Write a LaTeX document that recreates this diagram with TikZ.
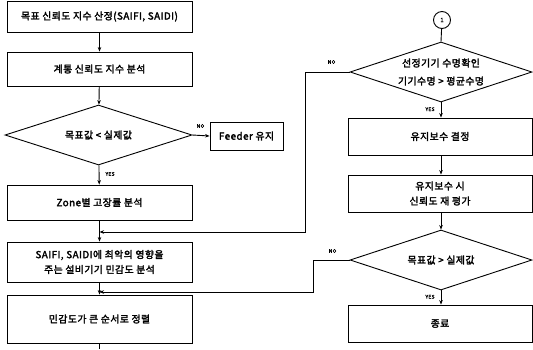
\documentclass[tikz,border=0pt]{standalone}
\usepackage{fontspec}
\setmainfont{Noto Sans CJK KR}[AutoFakeBold=2.5, LetterSpace=5]
\usetikzlibrary{shapes.geometric,arrows.meta,calc}
\tikzset{
  box/.style={draw, line width=0.9pt, minimum width=185, inner sep=1pt,
    font=\fontsize{9.8}{15}\selectfont\bfseries, align=center},
  rbox/.style={box, minimum width=184, minimum height=37},
  dec/.style={draw, diamond, aspect=3.05, line width=0.9pt, inner sep=0pt,
    minimum width=185, minimum height=60,
    font=\fontsize{9.8}{18}\selectfont\bfseries, align=center},
  conn/.style={line width=0.9pt, -{Stealth[length=4.5pt,width=3.5pt]}},
  plain/.style={line width=0.9pt},
  lab/.style={font=\fontsize{5}{6}\selectfont\bfseries, inner sep=0pt}
}
\begin{document}
\begin{tikzpicture}[x=1pt,y=-1pt]
\useasboundingbox (0,0) rectangle (533,349);
% left column
\node[box, minimum height=31] (b1) at (99.5,16.5) {목표 신뢰도 지수 산정(SAIFI, SAIDI)};
\node[box, minimum height=34] (b2) at (99.5,69) {계통 신뢰도 지수 분석};
\node[dec, minimum width=187] (d1) at (98.5,135) {목표값 < 실제값};
\node[box, minimum width=73, minimum height=28] (fd) at (246.5,136) {Feeder 유지};
\node[box, minimum height=35] (b3) at (99.5,202.5) {Zone별 고장률 분석};
\node[box, minimum height=40] (b4) at (99.5,262) {SAIFI, SAIDI에 최악의 영향을\\주는 설비기기 민감도 분석};
\node[box, minimum height=48] (b5) at (99.5,319) {민감도가 큰 순서로 정렬};
\coordinate (bend) at (99.5,349);
% right column
\node[draw, circle, line width=0.9pt, minimum size=17, inner sep=0pt,
  font=\fontsize{6}{6}\selectfont\bfseries] (c1) at (442,20) {1};
\node[dec, minimum width=182] (d2) at (441,72) {선정기기 수명확인\\기기수명 > 평균수명};
\node[rbox] (b6) at (440,136.5) {유지보수 결정};
\node[rbox] (b7) at (440,193.5) {유지보수 시\\신뢰도 재 평가};
\node[dec, minimum width=182] (d3) at (441,260) {목표값 > 실제값};
\node[rbox] (b8) at (440,323.5) {종료};
% connectors left
\draw[conn] (b1) -- (b2);
\draw[conn] (b2) -- (d1);
\draw[conn] (d1) -- node[lab, pos=0.45, right=6pt] {YES} (b3);
\draw[conn] (d1.east) -- (fd.west);
\node[lab] at ($(d1.east)+(8,-9)$) {NO};
\draw[conn] (b3) -- (b4);
\draw[conn] (b4) -- (b5);
\draw[plain] (b5) -- (bend);
% connectors right
\draw[plain] (c1) -- (d2.north);
\draw[conn] (d2.south) -- node[lab, pos=0.45, left=6pt] {YES} (b6.north -| d2.south);
\draw[conn] (b6.south -| d2.south) -- (b7.north -| d2.south);
\draw[conn] (b7.south -| d2.south) -- (d3.north);
\draw[conn] (d3.south) -- node[lab, pos=0.45, left=6pt] {YES} (b8.north -| d3.south);
% feedback loops
\coordinate (f1a) at (305,72);
\coordinate (f1b) at (305,232);
\coordinate (f1c) at (99.5,232);
\draw[conn] (d2.west) -- (f1a) -- (f1b) -- (f1c);
\node[lab] at ($(d2.west)+(-18,-10)$) {NO};
\coordinate (f2a) at (313,260);
\coordinate (f2b) at (313,292);
\coordinate (f2c) at (99.5,292);
\draw[conn] (d3.west) -- (f2a) -- (f2b) -- (f2c);
\node[lab] at ($(d3.west)+(-17,-9)$) {NO};
\end{tikzpicture}
\end{document}
